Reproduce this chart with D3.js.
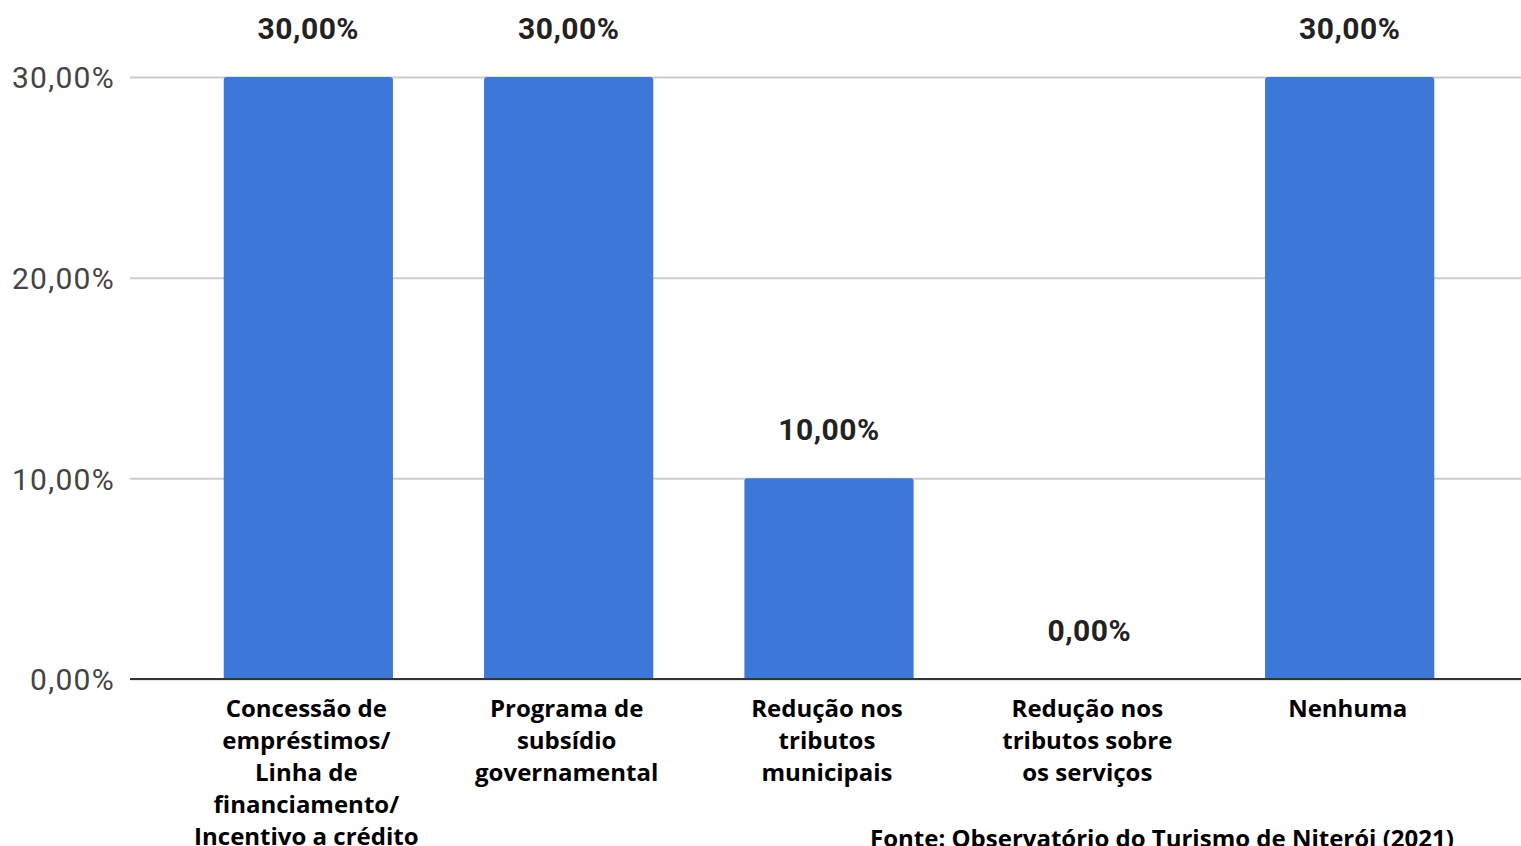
<!DOCTYPE html>
<html>
<head>
<meta charset="utf-8">
<script src="https://cdn.jsdelivr.net/npm/d3@7"></script>
<style>
  body { margin: 0; background: #fff; overflow: hidden; }
</style>
</head>
<body>
<div id="container"></div>
<script>
// data
let categories = [
  ["Concessão de", "empréstimos/", "Linha de", "financiamento/", "Incentivo a crédito"],
  ["Programa de", "subsídio", "governamental"],
  ["Redução nos", "tributos", "municipais"],
  ["Redução nos", "tributos sobre", "os serviços"],
  ["Nenhuma"]
];
let values = [30, 30, 10, 0, 30];
let yTicks = [0, 10, 20, 30];
let sourceNote = "Fonte: Observatório do Turismo de Niterói (2021)";

let w = 1521;
let h = 846;

let viz = d3.select("#container")
  .append("svg")
  .attr("width", w)
  .attr("height", h)
  .style("background-color", "white");

let fmt = function (v) { return v.toFixed(2).replace(".", ",") + "%"; };

let xScale = d3.scaleBand()
  .domain(d3.range(values.length))
  .range([130, 1528])
  .paddingInner(0.35)
  .paddingOuter(0.36);

let yScale = d3.scaleLinear().domain([0, 30]).range([679, 77]);

// gridlines + tick labels
let yAxis = d3.axisLeft(yScale)
  .tickValues(yTicks)
  .tickSize(-(w - 130))
  .tickFormat(fmt);

let yAxisGroup = viz.append("g")
  .attr("transform", "translate(130,0)")
  .call(yAxis);
yAxisGroup.select(".domain").remove();
yAxisGroup.selectAll(".tick line").attr("stroke", "#cccccc").attr("stroke-width", 2);
yAxisGroup.selectAll(".tick text")
  .attr("x", -15)
  .attr("dy", "0.36em")
  .attr("fill", "#444")
  .attr("font-family", "Roboto, sans-serif")
  .attr("font-size", 30)
  .attr("letter-spacing", 1.3);

// bars
viz.selectAll(".bar")
  .data(values)
  .enter()
  .append("path")
  .attr("class", "bar")
  .attr("fill", "#3c78d8")
  .attr("d", function (d, i) {
    let x0 = xScale(i), x1 = x0 + xScale.bandwidth();
    let y0 = yScale(d), y1 = yScale(0);
    if (y1 - y0 < 1) return "";
    let r = 3;
    return "M" + x0 + "," + y1 + "V" + (y0 + r) + "Q" + x0 + "," + y0 + " " + (x0 + r) + "," + y0 +
      "H" + (x1 - r) + "Q" + x1 + "," + y0 + " " + x1 + "," + (y0 + r) + "V" + y1 + "Z";
  });

// baseline
viz.append("line")
  .attr("x1", 130).attr("x2", w)
  .attr("y1", yScale(0)).attr("y2", yScale(0))
  .attr("stroke", "#333").attr("stroke-width", 2);

// value labels
viz.selectAll(".vlabel")
  .data(values)
  .enter()
  .append("text")
  .attr("class", "vlabel")
  .attr("x", function (d, i) { return xScale(i) + xScale.bandwidth() / 2; })
  .attr("y", function (d) { return yScale(d) - 38; })
  .attr("text-anchor", "middle")
  .attr("font-family", "Roboto, sans-serif")
  .attr("font-weight", "bold")
  .attr("font-size", 30)
  .attr("letter-spacing", 0.5)
  .attr("fill", "#222")
  .text(fmt);

// category labels
let catGroups = viz.selectAll(".cat")
  .data(categories)
  .enter()
  .append("text")
  .attr("class", "cat")
  .attr("text-anchor", "middle")
  .attr("font-family", "'Open Sans', sans-serif")
  .attr("font-weight", "bold")
  .attr("font-size", 24)
  .attr("fill", "#000");

catGroups.selectAll("tspan")
  .data(function (d, i) { return d.map(function (line) { return { line: line, i: i }; }); })
  .enter()
  .append("tspan")
  .attr("x", function (d) { return xScale(d.i) + xScale.bandwidth() / 2 - 2; })
  .attr("y", function (d, j) { return 717 + j * 32; })
  .text(function (d) { return d.line; });

// source note
viz.append("text")
  .attr("x", 870)
  .attr("y", 847)
  .attr("font-family", "'Open Sans', sans-serif")
  .attr("font-weight", "bold")
  .attr("font-size", 24)
  .attr("fill", "#000")
  .text(sourceNote);
</script>
</body>
</html>
